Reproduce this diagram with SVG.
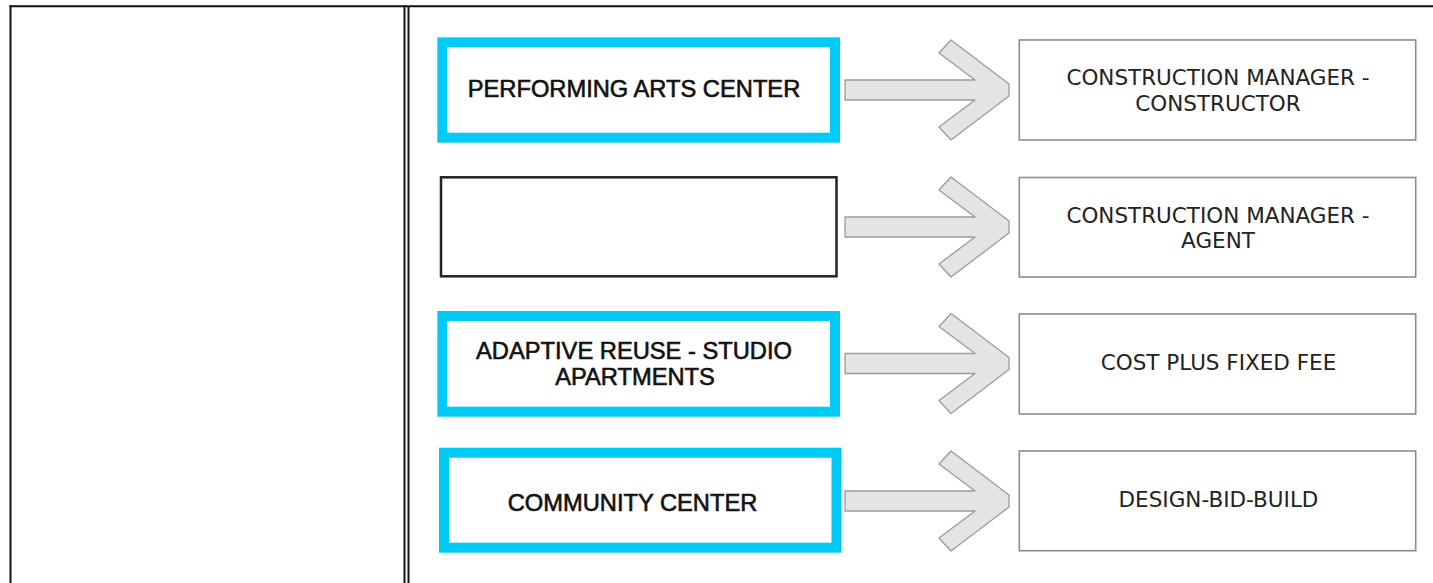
<svg xmlns="http://www.w3.org/2000/svg" width="1433" height="583" viewBox="0 0 1433 583">
<style>
.frame{stroke:#111;stroke-width:2;fill:none}
.proj{fill:#fff;stroke:#00cbf4;stroke-width:10}
.blank{fill:#fff;stroke:#222;stroke-width:2.5}
.meth{fill:#fff;stroke:#8c8c8c;stroke-width:1.6}
.arr{fill:#e4e4e4;stroke:#9c9c9c;stroke-width:1.3;stroke-linejoin:round}
.lt{font-family:"Liberation Sans",Arial,sans-serif;font-size:23.7px;fill:#111;stroke:#111;stroke-width:0.6;text-anchor:middle}
.rt{font-family:"DejaVu Sans",Verdana,sans-serif;font-size:21.5px;fill:#222;text-anchor:middle}
</style>
<defs>
<polygon id="arrow" points="845,-10 975,-10 939,-37 951,-50 1009,-6 1009,6 951,50 939,37 975,10 845,10"/>
</defs>
<rect width="1433" height="583" fill="#fff"/>
<g id="frame">
<line class="frame" x1="9.5" y1="6.3" x2="1433" y2="6.3"/>
<line class="frame" x1="10.5" y1="5.3" x2="10.5" y2="583"/>
<line class="frame" x1="404.5" y1="5.3" x2="404.5" y2="583"/>
<line class="frame" x1="408.5" y1="6.3" x2="408.5" y2="583"/>
</g>
<g id="connectors">
<use href="#arrow" class="arr" transform="translate(0,90)"/>
<use href="#arrow" class="arr" transform="translate(0,227)"/>
<use href="#arrow" class="arr" transform="translate(0,363.5)"/>
<use href="#arrow" class="arr" transform="translate(0,501)"/>
</g>
<g id="performing-arts-center">
<rect class="proj" x="442.3" y="42.3" width="392.7" height="95.4"/>
<text class="lt" x="634" y="97">PERFORMING ARTS CENTER</text>
</g>
<g id="blank-project">
<rect class="blank" x="441" y="177.3" width="395.5" height="99"/>
</g>
<g id="adaptive-reuse">
<rect class="proj" x="442.3" y="316" width="392.7" height="95.7"/>
<text class="lt" x="634" y="359">ADAPTIVE REUSE - STUDIO</text>
<text class="lt" x="635" y="385">APARTMENTS</text>
</g>
<g id="community-center">
<rect class="proj" x="444" y="452.7" width="392.5" height="95"/>
<text class="lt" x="632.5" y="511">COMMUNITY CENTER</text>
</g>
<g id="cm-constructor">
<rect class="meth" x="1019.3" y="40" width="396.4" height="100"/>
<text class="rt" x="1218" y="85">CONSTRUCTION MANAGER -</text>
<text class="rt" x="1218" y="110.7">CONSTRUCTOR</text>
</g>
<g id="cm-agent">
<rect class="meth" x="1019.3" y="177.5" width="396.4" height="99.5"/>
<text class="rt" x="1218" y="222.5">CONSTRUCTION MANAGER -</text>
<text class="rt" x="1218" y="248">AGENT</text>
</g>
<g id="cost-plus">
<rect class="meth" x="1019.3" y="314" width="396.4" height="100"/>
<text class="rt" x="1218.5" y="370">COST PLUS FIXED FEE</text>
</g>
<g id="design-bid-build">
<rect class="meth" x="1019.3" y="451" width="396.4" height="99.7"/>
<text class="rt" x="1218.5" y="506.7">DESIGN-BID-BUILD</text>
</g>
</svg>
